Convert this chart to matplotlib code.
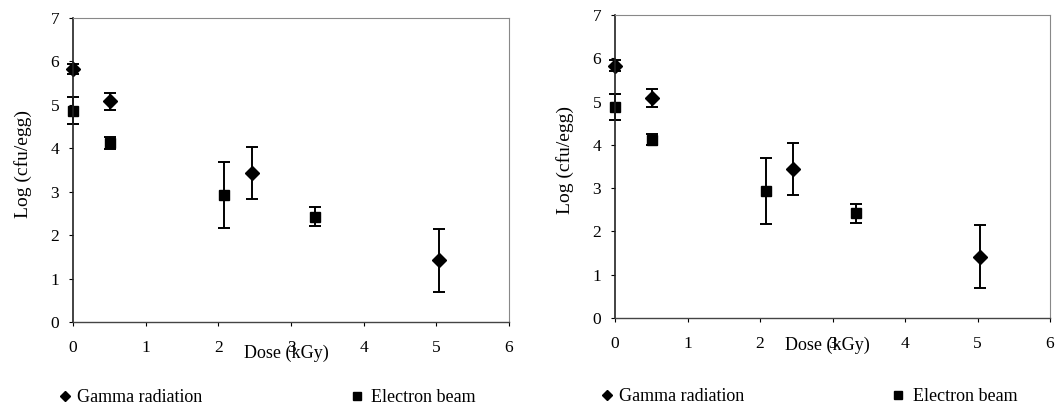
import matplotlib
matplotlib.use("Agg")
import matplotlib.pyplot as plt
from matplotlib.lines import Line2D

plt.rcParams['font.family'] = ['Liberation Serif', 'DejaVu Serif']

# Data
gamma_dose = [0.0, 0.51, 2.46, 5.03]
gamma_log = [5.83, 5.08, 3.44, 1.42]
gamma_err = [0.12, 0.2, 0.6, 0.72]

electron_dose = [0.0, 0.51, 2.08, 3.33]
electron_log = [4.87, 4.12, 2.93, 2.42]
electron_err = [0.3, 0.13, 0.76, 0.22]

x_ticks = [0, 1, 2, 3, 4, 5, 6]
y_ticks = [0, 1, 2, 3, 4, 5, 6, 7]
series_labels = ["Gamma radiation", "Electron beam"]

fig = plt.figure(figsize=(10.61, 4.07), dpi=100)

panels = [
    dict(rect=[73/1061, 85/407, 436/1061, 304/407], xlab=(0.49, -0.075),
         ylab=(-0.093, 0.52), leg_y=-0.25, leg_x1=-0.04, leg_x2=0.63),
    dict(rect=[615/1061, 89/407, 435/1061, 303/407], xlab=(0.489, -0.062),
         ylab=(-0.094, 0.52), leg_y=-0.26, leg_x1=-0.04, leg_x2=0.63),
]


def unclip(container):
    for child in container.get_children():
        child.set_clip_on(False)


for p in panels:
    ax = fig.add_axes(p['rect'])
    eb1 = ax.errorbar(gamma_dose, gamma_log, yerr=gamma_err, fmt='D', color='black',
                      ms=7, elinewidth=1.4, capsize=4.5, capthick=1.4)
    eb2 = ax.errorbar(electron_dose, electron_log, yerr=electron_err, fmt='s', color='black',
                      ms=7.5, elinewidth=1.4, capsize=4.5, capthick=1.4)
    unclip(eb1)
    unclip(eb2)
    ax.set_xlim(0, 6)
    ax.set_ylim(0, 7)
    ax.set_xticks(x_ticks)
    ax.set_yticks(y_ticks)
    ax.tick_params(axis='x', direction='out', length=3, width=0.8, pad=10, labelsize=12.5)
    ax.tick_params(axis='y', direction='out', length=3, width=0.8, pad=7, labelsize=12.5)
    ax.spines['left'].set_color('#222222')
    ax.spines['left'].set_linewidth(1.2)
    ax.spines['bottom'].set_color('#444444')
    ax.spines['bottom'].set_linewidth(1.0)
    for s in ('top', 'right'):
        ax.spines[s].set_color('#888888')
        ax.spines[s].set_linewidth(0.8)
    ax.set_xlabel("Dose (kGy)", fontsize=13)
    ax.xaxis.set_label_coords(*p['xlab'])
    ax.set_ylabel("Log (cfu/egg)", fontsize=14)
    ax.yaxis.set_label_coords(*p['ylab'])

    h1 = Line2D([], [], marker='D', ls='none', color='black', ms=5.5)
    h2 = Line2D([], [], marker='s', ls='none', color='black', ms=6)
    l1 = ax.legend([h1], [series_labels[0]], loc='center left',
                   bbox_to_anchor=(p['leg_x1'], p['leg_y']), frameon=False,
                   handlelength=1.0, handletextpad=0.2, borderpad=0, borderaxespad=0,
                   fontsize=13)
    ax.add_artist(l1)
    ax.legend([h2], [series_labels[1]], loc='center left',
              bbox_to_anchor=(p['leg_x2'], p['leg_y']), frameon=False,
              handlelength=1.0, handletextpad=0.3, borderpad=0, borderaxespad=0,
              fontsize=13)

fig.savefig("out.png", dpi=100)
